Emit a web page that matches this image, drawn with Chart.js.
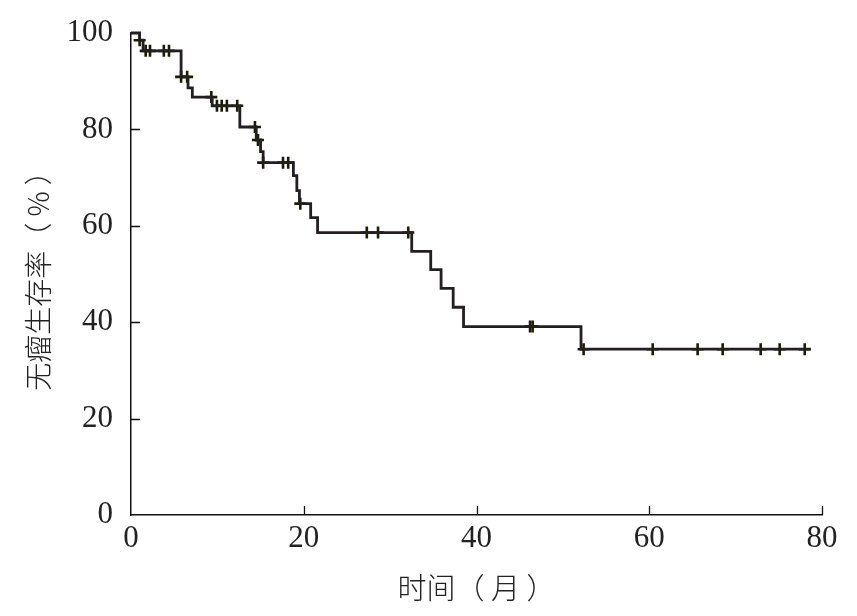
<!DOCTYPE html>
<html>
<head>
<meta charset="utf-8">
<script src="https://cdn.jsdelivr.net/npm/chart.js@4.4.1/dist/chart.umd.min.js"></script>
<style>
  html, body { margin: 0; padding: 0; background: #fff; }
  #wrap { width: 857px; height: 616px; position: relative; }
</style>
</head>
<body>
<div id="wrap"><canvas id="km"></canvas></div>
<script>
// ===== KAPLAN-MEIER DATA =====
// step drop times (months) and survival after each drop (%)
const stepTimes = [0, 1.0, 1.4, 5.8, 6.6, 7.1, 9.4, 12.6, 14.5, 15.0, 15.3, 18.8, 19.2, 19.5, 20.8, 21.6, 32.5, 34.7, 35.9, 37.3, 38.5, 52.1, 78.7];
const stepSurv  = [100, 98.5, 96.3, 90.9, 88.6, 86.7, 84.9, 80.5, 77.8, 75.4, 73.1, 70.4, 67.3, 64.6, 61.7, 58.6, 54.7, 50.9, 47.0, 43.1, 39.1, 34.4, 34.4];

// censored observations
const censorTimes = [1.0, 1.7, 2.2, 3.8, 4.4, 5.8, 6.5, 9.3, 9.95, 10.5, 11.1, 12.3, 14.35, 14.7, 15.3, 17.6, 18.2, 19.6, 27.3, 28.6, 32.1, 46.2, 46.5, 52.4, 60.4, 65.6, 68.5, 72.9, 75.1, 78.0];
const censorSurv  = [98.5, 96.3, 96.3, 96.3, 96.3, 90.9, 90.9, 86.7, 84.9, 84.9, 84.9, 84.9, 80.5, 77.8, 73.1, 73.1, 73.1, 64.6, 58.6, 58.6, 58.6, 39.1, 39.1, 34.4, 34.4, 34.4, 34.4, 34.4, 34.4, 34.4];

const xTicks = [0, 20, 40, 60, 80];
const yTicks = [0, 20, 40, 60, 80, 100];

const X_TITLE = '时间（ 月 ）';
const Y_TITLE = '无瘤生存率（ % ）';

const SERIF = '"Liberation Serif", "DejaVu Serif", serif';
const CJK   = '"Noto Sans CJK SC", sans-serif';

// ======== INWARD TICK MARKS ========
const innerTicks = {
  id: 'innerTicks',
  afterDatasetsDraw(chart) {
    const { ctx, chartArea, scales: { x, y } } = chart;
    const len = 9;
    ctx.save();
    ctx.strokeStyle = '#111';
    ctx.lineWidth = 1.3;
    ctx.beginPath();
    xTicks.filter(v => v > 0).forEach(v => {
      const px = Math.round(x.getPixelForValue(v)) + 0.5;
      ctx.moveTo(px, chartArea.bottom);
      ctx.lineTo(px, chartArea.bottom - len);
    });
    yTicks.filter(v => v > 0 && v < 100).forEach(v => {
      const py = Math.round(y.getPixelForValue(v)) + 0.5;
      ctx.moveTo(chartArea.left, py);
      ctx.lineTo(chartArea.left + len, py);
    });
    ctx.stroke();
    ctx.restore();
  },
};

new Chart(document.getElementById('km'), {
  type: 'line',
  data: {
    datasets: [
      {
        label: 'KM',
        data: stepTimes.map((t, i) => ({ x: t, y: stepSurv[i] })),
        stepped: 'before',
        borderColor: '#231f20',
        borderWidth: 2.8,
        pointRadius: 0,
        fill: false,
        clip: false,
      },
      {
        label: 'Censored',
        type: 'scatter',
        data: censorTimes.map((t, i) => ({ x: t, y: censorSurv[i] })),
        pointStyle: 'cross',
        pointRadius: 6,
        borderColor: '#1c1c05',
        borderWidth: 2.6,
        showLine: false,
        clip: false,
      },
    ],
  },
  options: {
    responsive: true, maintainAspectRatio: false,
    animation: false,
    devicePixelRatio: 1,
    layout: { padding: { top: 33, right: 35, left: 0, bottom: 0 } },
    plugins: { legend: { display: false }, tooltip: { enabled: false } },
    scales: {
      x: {
        type: 'linear', min: 0, max: 80,
        afterBuildTicks: s => { s.ticks = xTicks.map(v => ({ value: v })); },
        afterFit: s => { s.height = 101; s.paddingLeft = 0; s.paddingRight = 0; },
        grid: { display: true, drawOnChartArea: false, drawTicks: false, color: '#000' },
        border: { display: true, color: '#111', width: 1.5 },
        ticks: { color: '#222', padding: 5, font: { family: SERIF, size: 31 }, maxRotation: 0 },
        title: { display: true, text: X_TITLE, color: '#222', font: { family: CJK, size: 29, weight: '300' }, padding: { top: 0, bottom: 11 } },
      },
      y: {
        type: 'linear', min: 0, max: 100,
        afterBuildTicks: s => { s.ticks = yTicks.map(v => ({ value: v })); },
        afterFit: s => { s.width = 131; s.paddingTop = 0; s.paddingBottom = 0; },
        grid: { display: true, drawOnChartArea: false, drawTicks: false, color: '#000' },
        border: { display: true, color: '#111', width: 1.5 },
        ticks: { color: '#222', padding: 18, font: { family: SERIF, size: 31 } },
        title: { display: true, text: Y_TITLE, color: '#222', font: { family: CJK, size: 28, weight: '300' }, padding: { top: 22, bottom: 0 } },
      },
    },
  },
  plugins: [innerTicks],
});
</script>
</body>
</html>
